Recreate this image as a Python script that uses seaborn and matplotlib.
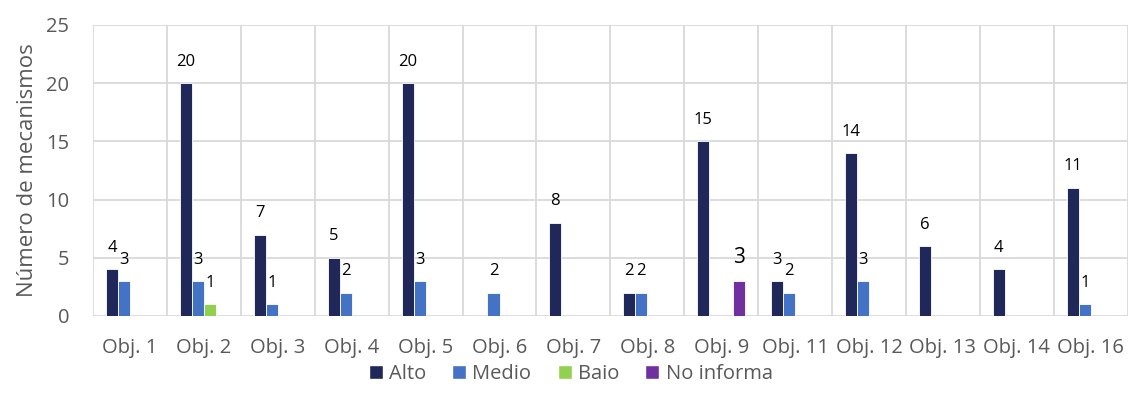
import pandas as pd
import numpy as np
import matplotlib.pyplot as plt
import seaborn as sns
from matplotlib.patches import Patch

# Values
categories = ['Obj. 1', 'Obj. 2', 'Obj. 3', 'Obj. 4', 'Obj. 5', 'Obj. 6', 'Obj. 7',
              'Obj. 8', 'Obj. 9', 'Obj. 11', 'Obj. 12', 'Obj. 13', 'Obj. 14', 'Obj. 16']
alto = [4, 20, 7, 5, 20, 0, 8, 2, 15, 3, 14, 6, 4, 11]
medio = [3, 3, 1, 2, 3, 2, 0, 2, 0, 2, 3, 0, 0, 1]
baio = [0, 1, 0, 0, 0, 0, 0, 0, 0, 0, 0, 0, 0, 0]
no_informa = [0, 0, 0, 0, 0, 0, 0, 0, 3, 0, 0, 0, 0, 0]
series_names = ['Alto', 'Medio', 'Baio', 'No informa']
colors = ['#1F2859', '#4472C4', '#92D050', '#7030A0']

df = pd.DataFrame({'categoria': categories, 'Alto': alto, 'Medio': medio,
                   'Baio': baio, 'No informa': no_informa})
long_df = df.melt(id_vars='categoria', var_name='nivel', value_name='valor')

sns.set_style('white')
plt.rcParams['font.family'] = ['Open Sans', 'DejaVu Sans']

fig = plt.figure(figsize=(11.3, 4.07), dpi=100)
ax = fig.add_axes([0.0823, 0.2236, 0.9157, 0.715])

sns.barplot(data=long_df, x='categoria', y='valor', hue='nivel',
            hue_order=series_names, palette=colors, width=0.65,
            saturation=1, ax=ax, legend=False, errorbar=None,
            linewidth=0.6, edgecolor='white')

# Data labels (only non-zero values)
for cont, name in zip(ax.containers, series_names):
    for bar in cont:
        h = bar.get_height()
        if h <= 0:
            continue
        big = name == 'No informa'
        ax.annotate(f'{int(h)}', (bar.get_x() + bar.get_width() / 2, h),
                    xytext=(0, 15.5 if not big else 17), textcoords='offset points',
                    ha='center', va='center', fontsize=15 if big else 12,
                    color='black')

ax.set_xlim(-0.5, len(categories) - 0.5)
ax.set_ylim(0, 25)
ax.set_yticks(np.arange(0, 26, 5))
ax.set_xticks(np.arange(len(categories) + 1) - 0.5, minor=True)
ax.grid(True, which='minor', axis='x', color='#D9D9D9', lw=1.3)
ax.grid(True, which='major', axis='y', color='#D9D9D9', lw=1.3)
ax.set_axisbelow(True)
for s in ax.spines.values():
    s.set_visible(False)
ax.tick_params(axis='both', which='both', length=0, labelsize=14.5,
               labelcolor='#595959')
ax.tick_params(axis='x', pad=16)
ax.tick_params(axis='y', pad=17)
ax.set_xlabel('')
ax.set_ylabel('Número de mecanismos', fontsize=16, color='#595959', labelpad=6)

handles = [Patch(facecolor=c, label=n) for c, n in zip(colors, series_names)]
fig.legend(handles=handles, loc='center', bbox_to_anchor=(0.505, 0.08), ncol=4,
           frameon=False, fontsize=14.5, handlelength=0.7, handleheight=0.7,
           handletextpad=0.3, columnspacing=1.3, labelcolor='#595959')

fig.savefig('out.png', dpi=100)
